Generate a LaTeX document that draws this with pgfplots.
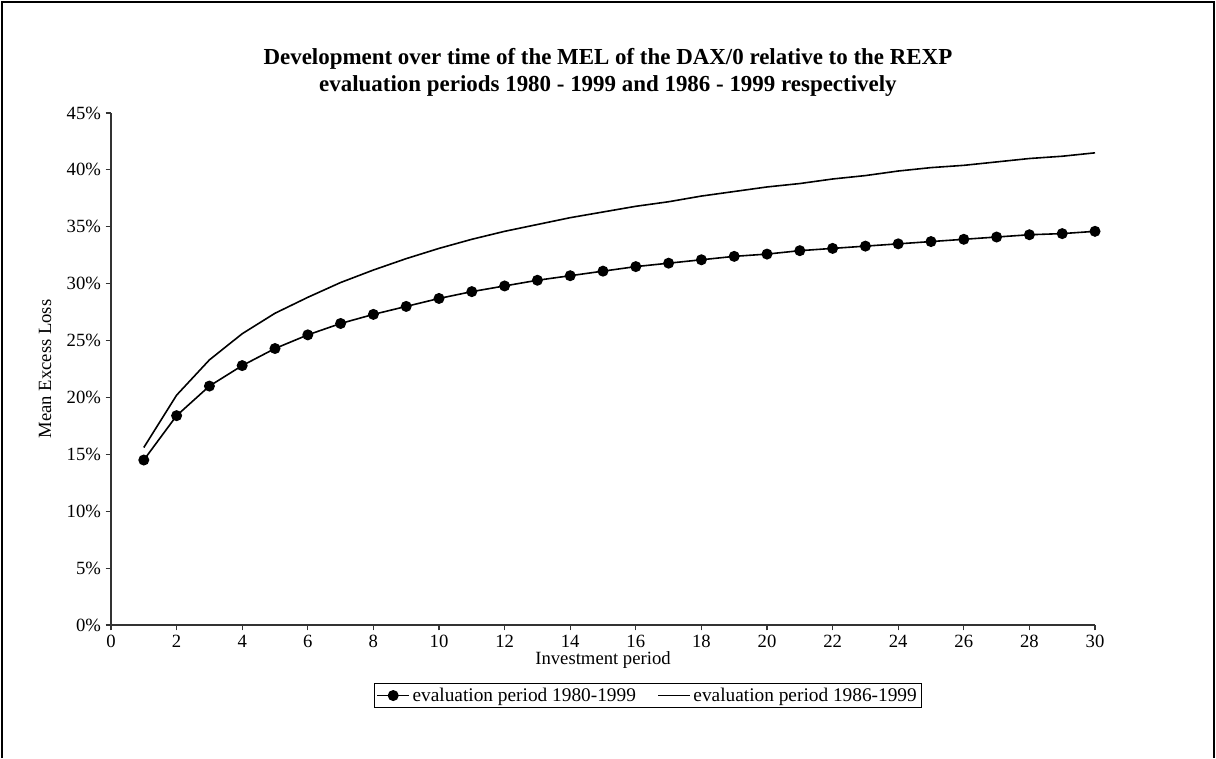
\documentclass[border=0pt]{standalone}
\usepackage{pgfplots}
\pgfplotsset{compat=1.18}
\usepackage{fontspec}
\setmainfont{Liberation Serif}
\begin{document}
\begin{tikzpicture}[x=0.75pt,y=0.75pt]
\path[use as bounding box] (0,0) rectangle (1216,758);
\draw[line width=1.6pt] (2,0) -- (2,756) -- (1214,756) -- (1214,0);
\begin{axis}[
  at={(83.25pt,99.75pt)}, anchor=south west,
  scale only axis, width=738pt, height=384pt,
  xmin=0, xmax=30, ymin=0, ymax=45,
  xtick={0,2,...,30}, ytick={0,5,...,45},
  yticklabel={\pgfmathprintnumber{\tick}\%},
  axis x line*=bottom, axis y line*=left,
  axis line style={-, line width=0.8pt, black!80},
  tick style={line width=0.8pt, black!80},
  tick align=outside, major tick length=4pt,
  /pgf/number format/assume math mode=true,
  tick label style={font=\fontsize{14}{16}\selectfont},
  title={Development over time of the MEL of the DAX/0 relative to the REXP\\evaluation periods 1980 - 1999 and 1986 - 1999 respectively},
  title style={at={(0.505,1)}, anchor=center, yshift=24.4pt, align=center, font=\bfseries\fontsize{17.2}{20.5}\selectfont},
  xlabel={Investment period},
  xlabel style={at={(0.5,0)}, anchor=center, yshift=-26.5pt, font=\fontsize{14}{16}\selectfont},
  ylabel={Mean Excess Loss},
  ylabel style={at={(-0.0671,0.5)}, anchor=center, font=\fontsize{14}{16}\selectfont},
  legend style={at={(0.5457,0)}, anchor=center, yshift=-52.9pt, draw=black, line width=0.8pt,
    font=\fontsize{14.5}{17}\selectfont, legend columns=2, inner sep=1.5pt,
    /tikz/every even column/.append style={column sep=14pt}},
  legend image code/.code={\draw[mark repeat=2,mark phase=2,#1] plot coordinates {(0cm,0cm) (0.42cm,0cm) (0.84cm,0cm)};},
  legend image post style={line width=1.2pt},
  legend cell align=left,
]
\addplot[black, line width=1.2pt, mark=*, mark size=3.5pt] coordinates {
(1,14.5)(2,18.4)(3,21.0)(4,22.8)(5,24.3)(6,25.5)(7,26.5)(8,27.3)(9,28.0)(10,28.7)
(11,29.3)(12,29.8)(13,30.3)(14,30.7)(15,31.1)(16,31.5)(17,31.8)(18,32.1)(19,32.4)(20,32.6)
(21,32.9)(22,33.1)(23,33.3)(24,33.5)(25,33.7)(26,33.9)(27,34.1)(28,34.3)(29,34.4)(30,34.6)};
\addlegendentry{evaluation period 1980-1999}
\addplot[black, line width=1.2pt] coordinates {
(1,15.6)(2,20.2)(3,23.3)(4,25.6)(5,27.4)(6,28.8)(7,30.1)(8,31.2)(9,32.2)(10,33.1)
(11,33.9)(12,34.6)(13,35.2)(14,35.8)(15,36.3)(16,36.8)(17,37.2)(18,37.7)(19,38.1)(20,38.5)
(21,38.8)(22,39.2)(23,39.5)(24,39.9)(25,40.2)(26,40.4)(27,40.7)(28,41.0)(29,41.2)(30,41.5)};
\addlegendentry{evaluation period 1986-1999}
\end{axis}
\end{tikzpicture}
\end{document}
